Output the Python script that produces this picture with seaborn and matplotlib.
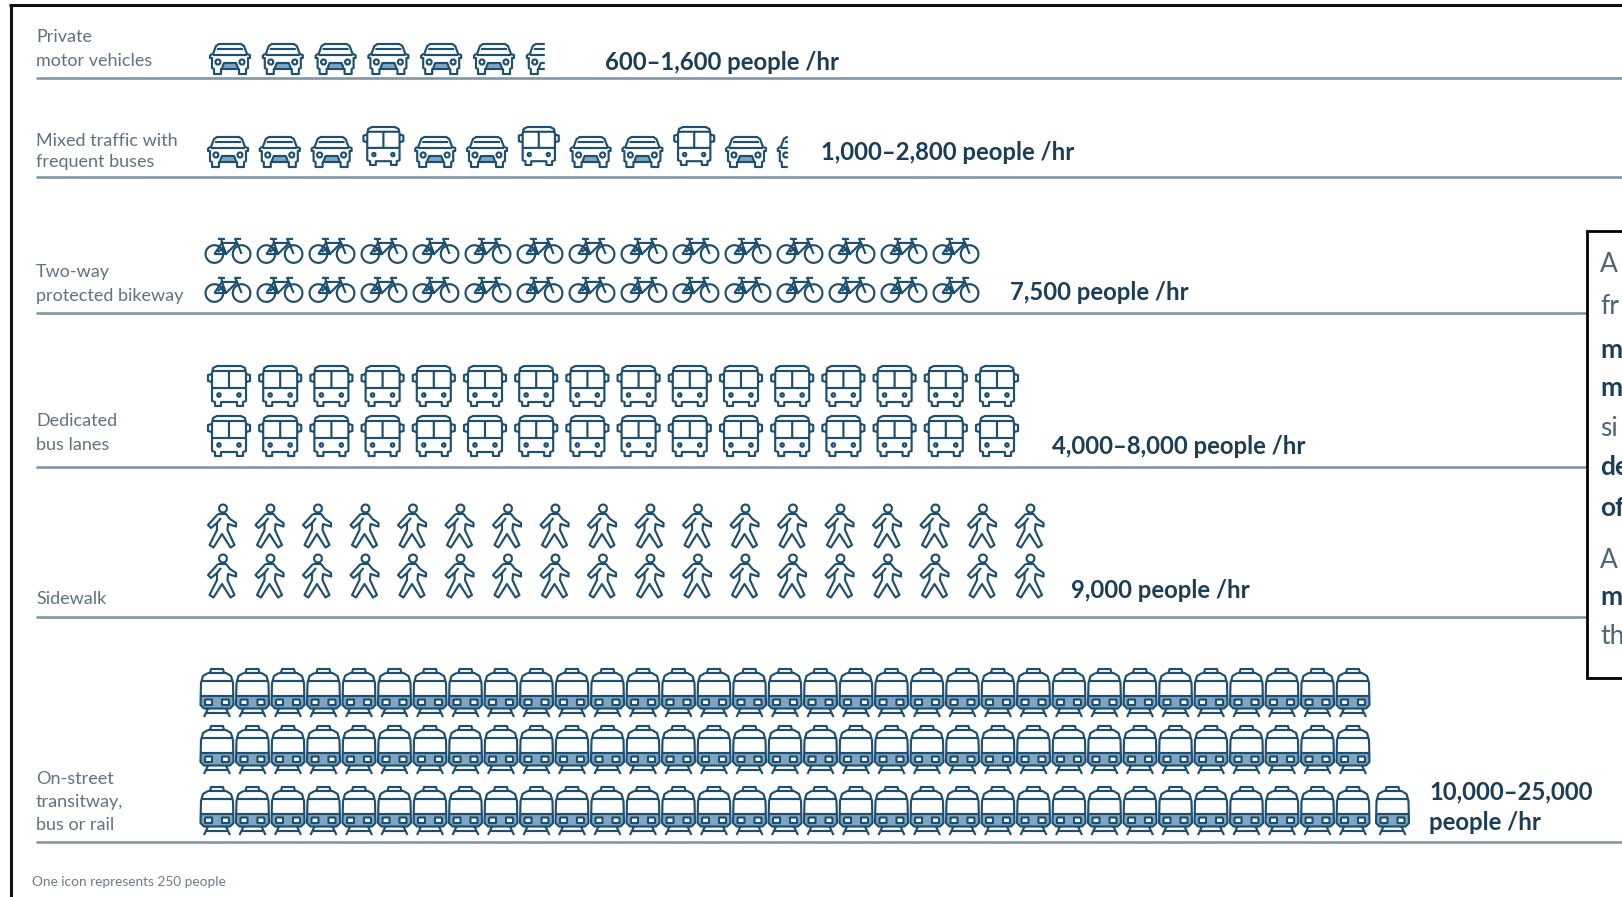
import numpy as np
import pandas as pd
import matplotlib
matplotlib.use("Agg")
import matplotlib.pyplot as plt
from matplotlib.path import Path
from matplotlib.patches import Rectangle
import seaborn as sns

# ---------- data ----------
row_labels = [["Private", "motor vehicles"],
              ["Mixed traffic with", "frequent buses"],
              ["Two-way", "protected bikeway"],
              ["Dedicated", "bus lanes"],
              ["Sidewalk"],
              ["On-street", "transitway,", "bus or rail"]]
value_labels = [["600\u20131,600 people /hr"],
                ["1,000\u20132,800 people /hr"],
                ["7,500 people /hr"],
                ["4,000\u20138,000 people /hr"],
                ["9,000 people /hr"],
                ["10,000\u201325,000", "people /hr"]]
row_icons = [["car"] * 6 + ["car_part_a"],
             ["car", "car", "car", "bus", "car", "car", "bus", "car", "car", "bus", "car", "car_part_b"],
             ["bike"] * 15,
             ["bus"] * 16,
             ["person"] * 18,
             ["train"] * 33]
row_repeats = [1, 1, 2, 2, 2, 3]       # stacked lines in each row
last_line_extra = [0, 0, 0, 0, 0, 1]   # bottom line of trains has one more icon
footer = "One icon represents 250 people"
callout = [("A", False), ("fr", False), ("m", True), ("m", True), ("si", False),
           ("de", True), ("of", True), ("A", False), ("m", True), ("th", False)]

# ---------- layout (pixels of the 1622x897 canvas) ----------
NAVY = "#1f4f70"
TINT = "#7ea6c2"
DARK = "#1c3d58"
GREY = "#5f7282"
RULE = "#8097a8"
rule_y = [78, 177, 313, 467, 617, 842]
start_x = [230, 228, 228, 229, 222, 217]
step_x = [52.8, 51.8, 52.0, 51.2, 47.5, 35.5]
extra_gap = 4
line_y = [[59], [None], [250, 289], [386, 436], [526, 576], [693, 750, 811]]
label_y = [[37.5, 61], [140.5, 162.5], [271.5, 295.5], [421.5, 444.5], [598.5], [778.5, 802.5, 825.5]]
value_pos = [(605, [62]), (821, [153]), (1010, [292]), (1052, [446]), (1071, [591]), (1429, [792, 823])]
callout_y = [265, 307, 350, 388, 428, 467, 508, 560, 597, 637]
ICON_R = {"car": 20, "car_part_a": 20, "car_part_b": 20, "bus": 21, "bike": 22.5, "person": 21.5, "train": 24}
ICON_Y = {"car": 152, "car_part_b": 152, "bus": 146}   # row 2 baselines


def circle(cx, cy, r, n=20):
    t = np.linspace(0, 2 * np.pi, n + 1)
    return list(zip(cx + r * np.cos(t), cy + r * np.sin(t)))


def build(polys, radius=None):
    verts, codes = [], []
    for p in polys:
        verts += list(p)
        codes += [Path.MOVETO] + [Path.LINETO] * (len(p) - 1)
    if radius is not None:   # keeps a fill layer at the same scale as its outline
        verts += [(radius, 0), (radius, 0)]
        codes += [Path.MOVETO, Path.LINETO]
    return Path(np.array(verts, float), codes)


def clip_left(polys, xmax):
    out = []
    for p in polys:
        cur = []
        for a, b in zip(p[:-1], p[1:]):
            ax_, ay_, bx_, by_ = a[0], a[1], b[0], b[1]
            if ax_ > xmax and bx_ > xmax:
                if cur:
                    out.append(cur)
                    cur = []
                continue
            if ax_ > xmax:
                t = (xmax - ax_) / (bx_ - ax_)
                a = (xmax, ay_ + t * (by_ - ay_))
            if bx_ > xmax:
                t = (xmax - ax_) / (bx_ - ax_)
                b = (xmax, ay_ + t * (by_ - ay_))
            if not cur:
                cur.append(a)
            cur.append(b)
        if cur:
            out.append(cur)
    return out


car = [
    [(-20, 4), (-17, 5), (-14, 13), (-11, 15), (11, 15), (14, 13), (17, 5), (20, 4), (20, 1), (18, 1),
     (18, -9), (16, -10), (16, -15), (9, -15), (9, -10), (-9, -10), (-9, -15), (-16, -15), (-16, -10),
     (-18, -9), (-18, 1), (-20, 1), (-20, 4)],
    [(-17, 4), (17, 4)],
    [(-13, 10), (13, 10)],
    circle(-12, -3, 2.6, 10), circle(12, -3, 2.6, 10),
    [(-8, -9), (-6, -4), (6, -4), (8, -9)],
]
car_fill = [[(-7.5, -9.5), (7.5, -9.5), (5.5, -4), (-5.5, -4), (-7.5, -9.5)]]
bus = [
    [(-17, 13), (-16, 18), (-12, 20), (12, 20), (16, 18), (17, 13), (17, -15), (14, -16), (14, -20), (8, -20),
     (8, -16), (-8, -16), (-8, -20), (-14, -20), (-14, -16), (-17, -15), (-17, 13)],
    [(-17, 15), (17, 15)],
    [(-17, -2), (17, -2)],
    [(0, 15), (0, -2)],
    [(-17, 12), (-21, 11), (-21, 5), (-17, 4)],
    [(17, 12), (21, 11), (21, 5), (17, 4)],
    circle(-10, -9, 1.8, 10), circle(10, -9, 1.8, 10),
]
bike = [
    circle(-13.5, -4, 8.8), circle(13.5, -4, 8.8),
    [(-13.5, -4), (-2, -4), (-6, 7), (-13.5, -4)],
    [(-6, 7), (9, 7), (-2, -4)],
    [(-2, -4), (-5, 2), (-10, -2)],
    [(13.5, -4), (9, 7), (7, 11), (13, 11)],
    [(-10, 11), (-3, 11)],
    [(-6, 7), (-6.5, 11)],
]
person = [
    circle(1, 17.5, 4, 14),
    [(-4, 12), (4, 12), (8, 7), (14, 3), (14, -0.5), (6, 2), (5.5, -4), (12.5, -19), (8.5, -21.5), (0, -8),
     (-8.5, -21.5), (-12.5, -19), (-5, -4), (-5, 3), (-11, -2), (-14, 1), (-4, 12)],
    [(-5, 3), (-1, 8)],
]
train = [
    [(-7, 20), (-6, 24), (6, 24), (7, 20)],
    [(-9, 20), (9, 20), (14, 17), (16, 10), (16.5, -12), (13, -15.5), (-13, -15.5), (-16.5, -12), (-16, 10), (-14, 17), (-9, 20)],
    [(-15.5, 12), (15.5, 12)],
    [(-16.5, -3), (16.5, -3)],
    [(-12, -6.5), (-5, -6.5), (-5, -12), (-12, -12), (-12, -6.5)],
    [(12, -6.5), (5, -6.5), (5, -12), (12, -12), (12, -6.5)],
    [(-9, -15.5), (-13, -24)],
    [(9, -15.5), (13, -24)],
    [(-11, -20), (11, -20)],
]
train_fill = [
    [(-16.5, -3), (-16.5, -12), (-13, -15.5), (13, -15.5), (16.5, -12), (16.5, -3), (-16.5, -3)],
    [(-12, -6.5), (-5, -6.5), (-5, -12), (-12, -12), (-12, -6.5)],
    [(12, -6.5), (12, -12), (5, -12), (5, -6.5), (12, -6.5)],
]
ICON = {"car": build(car), "bus": build(bus), "bike": build(bike), "person": build(person), "train": build(train),
        "car_part_a": build(clip_left(car, -2)), "car_part_b": build(clip_left(car, -10))}
FILL = {"car": build(car_fill, 20), "train": build(train_fill, 24)}

PX = 72 / 100  # points per pixel

sns.set_theme(style="white")
plt.rcParams["font.family"] = ["Lato", "DejaVu Sans"]

fig = plt.figure(figsize=(16.22, 8.97), dpi=100, facecolor="white")
ax = fig.add_axes([0, 0, 1, 1])

# ---------- icons ----------
records = []
for r, icons in enumerate(row_icons):
    n_lines = row_repeats[r]
    for ln in range(n_lines):
        seq = list(icons)
        if ln == n_lines - 1:
            seq += [icons[-1]] * last_line_extra[r]
        for i, name in enumerate(seq):
            y = line_y[r][ln]
            if y is None:
                y = ICON_Y[name]
            x = start_x[r] + i * step_x[r] + (extra_gap if i >= len(icons) else 0)
            records.append({"row": r, "slot": i, "icon": name, "y": y, "x": x})
df = pd.DataFrame(records)


def draw_layer(g, marker, size, fc, ec, lw, z):
    n = len(ax.collections)
    sns.scatterplot(data=g, x="x", y="y", marker=marker, s=size, color=NAVY, ax=ax, legend=False, zorder=z)
    for coll in ax.collections[n:]:
        coll.set_facecolor(fc)
        coll.set_edgecolor(ec)
        coll.set_linewidth(lw)


for (name, r), g in df.groupby(["icon", "row"]):
    scale = 0.95 if (name == "bus" and r == 1) else 1.0
    size = (2 * ICON_R[name] * PX * scale) ** 2
    if name in FILL:
        draw_layer(g, FILL[name], size, TINT, "none", 0, 2.6)
    draw_layer(g, ICON[name], size, "none", NAVY, 1.55, 3)

# ---------- rules, frame, callout ----------
for y in rule_y:
    ax.plot([36, 1622], [y, y], color=RULE, lw=1.9, solid_capstyle="butt", zorder=2)
ax.add_patch(Rectangle((1587, 231), 60, 447, facecolor="white", edgecolor="black", lw=2.0, zorder=4))
ax.plot([10.5, 10.5], [897, 5], color="#111111", lw=2.2, zorder=5, solid_capstyle="butt")
ax.plot([9, 1622], [5.5, 5.5], color="#111111", lw=2.2, zorder=5, solid_capstyle="butt")

# ---------- text ----------
for lines, ys in zip(row_labels, label_y):
    for t, y in zip(lines, ys):
        ax.text(36, y, t, color=GREY, fontsize=13, va="center", ha="left", zorder=6)
for lines, (x, ys) in zip(value_labels, value_pos):
    for t, y in zip(lines, ys):
        ax.text(x, y, t, color=DARK, fontsize=17.2, fontweight="bold", va="center", ha="left", zorder=6)
ax.text(32, 882, footer, color="#6c7c8a", fontsize=9.8, va="center", ha="left", zorder=6)
for (t, bold), y in zip(callout, callout_y):
    ax.text(1600, y, t, color=DARK if bold else "#4e6576", fontsize=19, fontweight="bold" if bold else "normal",
            va="center", ha="left", zorder=6, clip_on=True)

ax.set_xlim(0, 1622)
ax.set_ylim(897, 0)
ax.axis("off")
fig.savefig("out.png", dpi=100, facecolor="white")
